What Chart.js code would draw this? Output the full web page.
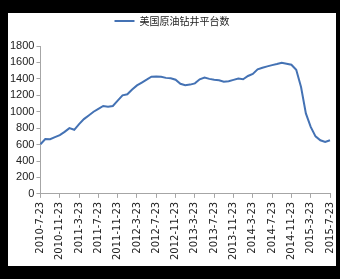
<!DOCTYPE html>
<html>
<head>
<meta charset="utf-8">
<script src="https://cdn.jsdelivr.net/npm/chart.js@4"></script>
<style>
html, body { margin:0; padding:0; background:#000; }
#box { position:absolute; left:8px; top:13px; width:328px; height:253px; background:#fff; overflow:hidden; }
#wrap { position:absolute; left:0; top:0; width:328px; height:251px; }
</style>
</head>
<body>
<div id="box"><div id="wrap"><canvas id="c"></canvas></div></div>
<script>
// monthly rig counts, 2010-7 .. 2015-7
var months = [];
var startY = 2010, startM = 7;
for (var i = 0; i <= 60; i++) {
  var mm = (startM - 1 + i) % 12 + 1;
  var yy = startY + Math.floor((startM - 1 + i) / 12);
  months.push(yy + '-' + mm + '-23');
}
var rigs = [604, 668, 665, 690, 715, 755, 800, 780, 850, 910,
            955, 1000, 1035, 1070, 1062, 1070, 1135, 1200, 1212, 1270,
            1320, 1355, 1390, 1427, 1430, 1425, 1412, 1407, 1390, 1340,
            1322, 1330, 1345, 1395, 1415, 1400, 1390, 1383, 1366, 1372,
            1388, 1405, 1395, 1435, 1460, 1516, 1536, 1552, 1567, 1580,
            1597, 1585, 1572, 1510, 1300, 980, 815, 700, 652, 632, 653];
var seriesName = '美国原油钻井平台数';
var yTicks = [0, 200, 400, 600, 800, 1000, 1200, 1400, 1600, 1800];

// extra space under the legend
var legendGap = {
  id: 'legendGap',
  beforeInit: function (chart) {
    var fit = chart.legend.fit;
    chart.legend.fit = function () {
      fit.bind(chart.legend)();
      this.height += 10;
    };
  }
};

var axisColor = '#a6a6a6';
new Chart(document.getElementById('c'), {
  type: 'line',
  data: {
    labels: months,
    datasets: [{
      label: seriesName,
      data: rigs,
      borderColor: '#4472b4',
      backgroundColor: '#4472b4',
      borderWidth: 2,
      pointRadius: 0,
      pointStyle: 'line',
      tension: 0
    }]
  },
  options: {
    responsive: true,
    maintainAspectRatio: false,
    animation: false,
    layout: { padding: { left: 0, right: 0, top: 0, bottom: 0 } },
    plugins: {
      legend: {
        position: 'top',
        labels: {
          usePointStyle: true,
          pointStyleWidth: 20,
          boxHeight: 2,
          color: '#222',
          font: { family: '"Noto Sans CJK SC"', size: 10 },
          padding: 3
        }
      },
      tooltip: { enabled: false }
    },
    scales: {
      x: {
        afterFit: function (s) { s.paddingRight = 6; },
        grid: {
          drawOnChartArea: false,
          tickLength: 4,
          color: function (ctx) { return ctx.index % 4 === 0 ? axisColor : 'rgba(0,0,0,0)'; }
        },
        border: { color: axisColor },
        ticks: {
          autoSkip: false,
          maxRotation: 90,
          minRotation: 90,
          padding: 4,
          color: '#222',
          font: { family: 'DejaVu Sans', size: 10 },
          callback: function (v, i) { return i % 4 === 0 ? months[i] : ''; }
        }
      },
      y: {
        min: 0,
        max: 1800,
        afterBuildTicks: function (ax) { ax.ticks = yTicks.map(function (v) { return { value: v }; }); },
        grid: { drawOnChartArea: false, tickLength: 4, color: axisColor },
        border: { color: axisColor },
        ticks: {
          autoSkip: false,
          padding: 2,
          color: '#222',
          font: { family: '"Liberation Sans Narrow", "Liberation Sans"', size: 11 },
          callback: function (v) { return String(v); }
        }
      }
    }
  },
  plugins: [legendGap]
});
</script>
</body>
</html>
